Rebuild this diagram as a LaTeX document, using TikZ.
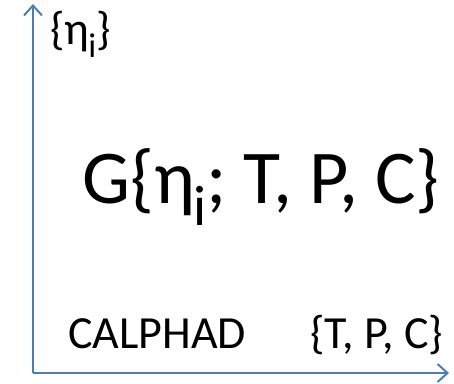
\documentclass[tikz,border=0pt]{standalone}
\usepackage{fontspec}
\setmainfont{Carlito}
\usetikzlibrary{arrows.meta}
\definecolor{axisblue}{HTML}{4A7EBB}
\newcommand{\etai}{η\kern-0.02em\raisebox{-0.3em}{\scalebox{0.75}{i}}}

\begin{document}
\begin{tikzpicture}[x=1pt,y=-1pt]
        \useasboundingbox (0,0) rectangle (454,383);
        \tikzset{axisline/.style={draw=axisblue,line width=2pt,-{Straight Barb[length=10pt,width=18pt,line width=2pt]}},
                 lbl/.style={inner sep=0pt,anchor=base west}}
        \coordinate (orig) at (33,373);
        \coordinate (ytop) at (33,4);
        \coordinate (xend) at (449,373);
        \draw[axisline] (orig) -- (ytop);
        \draw[axisline] (orig) -- (xend);
        \node[lbl,font=\fontsize{46}{50}\selectfont] (eta) at (50,44) {\{\etai\}};
        \node[lbl,font=\fontsize{76}{80}\selectfont] (gfunc) at (82,203) {G\{\etai; T, P, C\}};
        \node[lbl,font=\fontsize{46}{50}\selectfont] (calphad) at (68,348) {CALPHAD};
        \node[lbl,font=\fontsize{46}{50}\selectfont] (tpc) at (310,348) {\{T, P, C\}};
      \end{tikzpicture}
\end{document}
